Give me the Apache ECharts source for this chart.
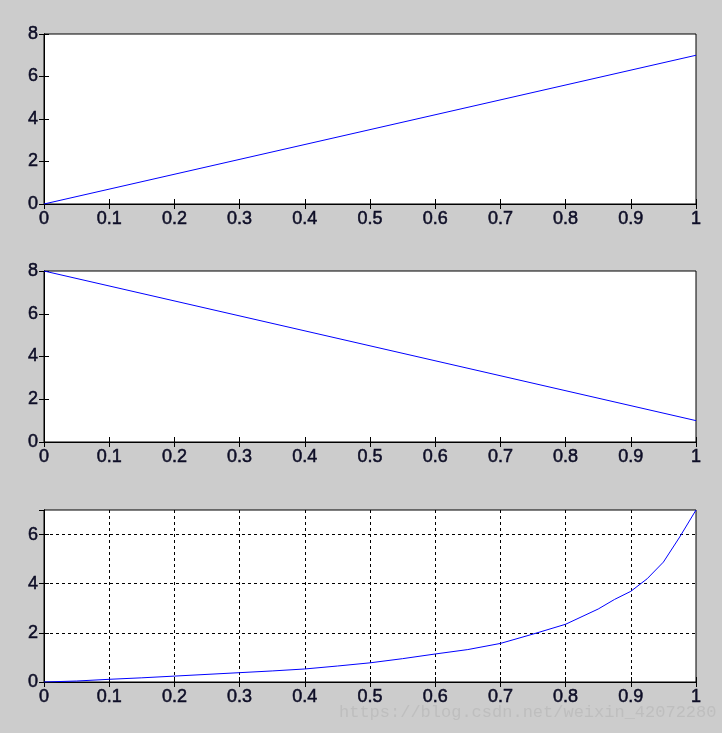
<!DOCTYPE html>
<html>
<head>
<meta charset="utf-8">
<script src="https://cdn.jsdelivr.net/npm/echarts@6/dist/echarts.min.js"></script>
<style>
html,body{margin:0;padding:0;background:#cccccc;}
#chart{width:722px;height:733px;}
</style>
</head>
<body>
<div id="chart"></div>
<script>
// Data
const topX = [0, 1];
const topY = [0, 7];
const midX = [0, 1];
const midY = [8, 1];
const botX = [0, 0.05, 0.1, 0.15, 0.2, 0.25, 0.3, 0.35, 0.4, 0.45, 0.5, 0.55, 0.6, 0.65, 0.7, 0.75, 0.8, 0.85, 0.875, 0.9, 0.925, 0.95, 0.975, 1];
const botY = [0, 0.04, 0.11, 0.17, 0.24, 0.31, 0.38, 0.45, 0.53, 0.65, 0.78, 0.95, 1.14, 1.32, 1.57, 1.95, 2.35, 2.97, 3.36, 3.69, 4.2, 4.88, 5.9, 7];
const xTickInterval = 0.1;
const topYMax = 8, midYMax = 8, botYMax = 7, yTickInterval = 2;
const watermark = 'https://blog.csdn.net/weixin_42072280';

const pairs = (xs, ys) => xs.map((x, i) => [x, ys[i]]);
const font = {fontFamily: 'Liberation Sans, Arial, sans-serif', fontSize: 18, color: '#0d0d26',
  textBorderColor: '#0d0d26', textBorderWidth: 0.5};

const grids = [
  {left: 44, right: 26, top: 34, height: 170},
  {left: 44, right: 26, top: 271, height: 171},
  {left: 44, right: 26, top: 510, height: 172}
].map(g => Object.assign(g, {show: true, backgroundColor: '#ffffff', borderColor: '#000000', borderWidth: 1}));

const xAxes = [], yAxes = [], series = [];
const yMaxes = [topYMax, midYMax, botYMax];
const datas = [pairs(topX, topY), pairs(midX, midY), pairs(botX, botY)];
for (let i = 0; i < 3; i++) {
  const withGrid = i === 2;
  const split = {show: withGrid, showMinLine: false, showMaxLine: false, lineStyle: {color: '#000', type: [3, 3], width: 1}};
  xAxes.push({
    type: 'value', gridIndex: i, position: 'bottom', min: 0, max: 1, interval: xTickInterval, z: 1,
    axisLine: {show: true, lineStyle: {color: '#000'}},
    axisTick: {show: true, inside: true, length: 5, lineStyle: {color: '#000'}},
    axisLabel: Object.assign({margin: 6, formatter: v => String(Math.round(v * 10) / 10)}, font),
    splitLine: split
  });
  xAxes.push({
    type: 'value', gridIndex: i, position: 'top', min: 0, max: 1, interval: xTickInterval, z: 3,
    axisLine: {show: true, lineStyle: {color: '#000'}},
    axisTick: {show: true, inside: true, length: 5, lineStyle: {color: '#000'}},
    axisLabel: {show: false}, splitLine: {show: false}
  });
  yAxes.push({
    type: 'value', gridIndex: i, position: 'left', min: 0, max: yMaxes[i], interval: yTickInterval, z: 1,
    axisLine: {show: true, lineStyle: {color: '#000'}},
    axisTick: {show: true, inside: true, length: 5, lineStyle: {color: '#000'}},
    axisLabel: Object.assign({margin: 6, showMaxLabel: yMaxes[i] % yTickInterval === 0}, font),
    splitLine: split
  });
  yAxes.push({
    type: 'value', gridIndex: i, position: 'right', min: 0, max: yMaxes[i], interval: yTickInterval, z: 3,
    axisLine: {show: true, lineStyle: {color: '#000'}},
    axisTick: {show: true, inside: true, length: 5, lineStyle: {color: '#000'}},
    axisLabel: {show: false}, splitLine: {show: false}
  });
  series.push({
    type: 'line', xAxisIndex: 2 * i, yAxisIndex: 2 * i, data: datas[i],
    showSymbol: false, symbol: 'none', lineStyle: {color: '#0000ff', width: 1}, animation: false, z: 5
  });
}

const chart = echarts.init(document.getElementById('chart'), null, {renderer: 'canvas'});
chart.setOption({
  backgroundColor: '#cccccc',
  animation: false,
  grid: grids, xAxis: xAxes, yAxis: yAxes, series: series,
  graphic: [{
    type: 'text', left: 339, top: 704,
    style: {text: watermark, fontFamily: 'Liberation Mono, DejaVu Sans Mono, monospace', fontSize: 17, fill: 'rgba(170,170,170,0.4)'}
  }]
});
</script>
</body>
</html>
